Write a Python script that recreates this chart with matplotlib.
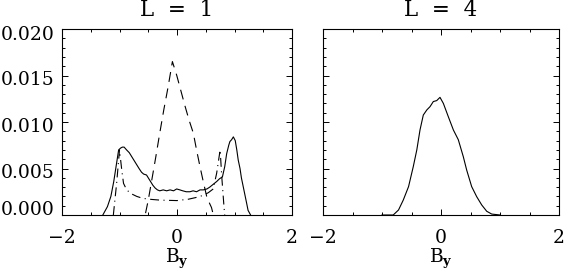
import matplotlib
matplotlib.use("Agg")
import matplotlib.pyplot as plt
import matplotlib.transforms as mtransforms
from matplotlib.ticker import MultipleLocator

plt.rcParams['font.family'] = ['DejaVu Serif']
plt.rcParams['mathtext.fontset'] = 'dejavuserif'

# L = 1 panel: solid curve
l1_solid_x = [-1.29, -1.21, -1.15, -1.10, -1.05, -1.015, -0.98, -0.95, -0.92, -0.877,
              -0.83, -0.79, -0.75, -0.70, -0.66, -0.617, -0.58, -0.53, -0.50, -0.46,
              -0.42, -0.38, -0.34, -0.30, -0.24, -0.18, -0.12, -0.06, -0.006, 0.05,
              0.10, 0.16, 0.225, 0.28, 0.34, 0.40, 0.457, 0.52, 0.57, 0.63,
              0.69, 0.74, 0.79, 0.83, 0.864, 0.90, 0.92, 0.95, 0.98, 1.013,
              1.04, 1.065, 1.096, 1.12, 1.15, 1.18, 1.21, 1.236, 1.28]
l1_solid_y = [0.0, 0.0009, 0.0020, 0.0036, 0.0056, 0.0070, 0.0072, 0.0073, 0.0073, 0.0070,
              0.0067, 0.0063, 0.0059, 0.0054, 0.0050, 0.0046, 0.0044, 0.0043, 0.0040, 0.0036,
              0.0032, 0.0029, 0.0027, 0.0026, 0.0027, 0.0026, 0.0027, 0.0026, 0.0028, 0.0027,
              0.0026, 0.0025, 0.0025, 0.0026, 0.0025, 0.0027, 0.0027, 0.0028, 0.0030, 0.0033,
              0.0036, 0.0039, 0.0041, 0.0052, 0.0066, 0.0075, 0.0079, 0.0081, 0.0084, 0.0080,
              0.0070, 0.0059, 0.0050, 0.0040, 0.0031, 0.0022, 0.0013, 0.0005, 0.0]

# L = 1 panel: long-dashed central peak
l1_peak_x = [-0.547, -0.50, -0.443, -0.37, -0.30, -0.23, -0.154, -0.08, -0.004, 0.07,
             0.14, 0.21, 0.284, 0.34, 0.40, 0.46, 0.516, 0.57, 0.60, 0.632]
l1_peak_y = [0.0002, 0.0016, 0.0036, 0.0062, 0.0088, 0.0113, 0.0138, 0.0165, 0.0150, 0.0133,
             0.0117, 0.0102, 0.0088, 0.0070, 0.0052, 0.0035, 0.0020, 0.0012, 0.0008, 0.0]

# L = 1 panel: dash-dot U-shaped curve
l1_u_x = [-1.107, -1.05, -1.0, -0.96, -0.93, -0.875, -0.80, -0.70, -0.60, -0.49,
          -0.296, 0.0, 0.20, 0.344, 0.45, 0.545, 0.63, 0.69, 0.75, 0.78, 0.817, 0.83]
l1_u_y = [0.0, 0.0034, 0.0070, 0.0048, 0.0034, 0.0027, 0.0023, 0.0020, 0.0018, 0.0017,
          0.0016, 0.00155, 0.0017, 0.0019, 0.0021, 0.0024, 0.0028, 0.0045, 0.0070, 0.0040, 0.0009, 0.0]

# L = 4 panel: solid curve
l4_x = [-1.0, -0.81, -0.72, -0.64, -0.55, -0.47, -0.41, -0.356, -0.30, -0.24,
        -0.186, -0.13, -0.073, -0.017, 0.04, 0.124, 0.21, 0.293, 0.378, 0.435,
        0.52, 0.605, 0.69, 0.775, 0.86, 1.0]
l4_y = [0.0, 0.0, 0.00054, 0.0016, 0.00305, 0.0052, 0.0070, 0.00914, 0.01075, 0.0113,
        0.01165, 0.0122, 0.0123, 0.01265, 0.0120, 0.01057, 0.00914, 0.0081, 0.00627, 0.00484,
        0.00305, 0.00197, 0.00108, 0.0004, 0.0001, 0.0]

titles = ["L  =  1", "L  =  4"]
xticks = [-2, 0, 2]
xticklabels = ['\u22122', '0', '2']
yticks = [0.000, 0.005, 0.010, 0.015, 0.020]
yticklabels = ['0.000', '0.005', '0.010', '0.015', '0.020']

fig = plt.figure(figsize=(5.65, 2.77), dpi=100)
ax1 = fig.add_axes([62/565, 1-215/277, 230/565, 186/277])
ax2 = fig.add_axes([323/565, 1-215/277, 236/565, 186/277])

fs = 13.5
lw = 0.8
ax1.plot(l1_solid_x, l1_solid_y, color='black', lw=lw)
ax1.plot(l1_peak_x, l1_peak_y, color='black', lw=lw, dashes=(9, 6))
ax1.plot(l1_u_x, l1_u_y, color='black', lw=lw, dashes=(8, 4, 1, 4))
ax2.plot(l4_x, l4_y, color='black', lw=lw)

for ax, t in zip([ax1, ax2], titles):
    ax.set_xlim(-2, 2)
    ax.set_ylim(0, 0.020)
    ax.set_xticks(xticks)
    ax.set_yticks(yticks)
    ax.xaxis.set_minor_locator(MultipleLocator(0.5))
    ax.yaxis.set_minor_locator(MultipleLocator(0.001))
    ax.tick_params(which='both', direction='in', top=True, right=True, width=0.7,
                   labelsize=fs)
    ax.tick_params(which='major', length=4.5)
    ax.tick_params(which='minor', length=2)
    ax.tick_params(axis='x', which='major', pad=10)
    ax.tick_params(axis='y', which='major', pad=5.5)
    for s in ax.spines.values():
        s.set_linewidth(0.8)
    ax.set_title(t, fontsize=15.5, pad=9.5)
    ax.set_xlabel(r'$\mathrm{B}_{\mathbf{y}}$', fontsize=fs, labelpad=0)
    ax.set_xticklabels(xticklabels)

ax1.set_yticklabels(yticklabels)
ax2.set_yticklabels([])

# IDL-style vertical offsets of y tick labels (pixels, positive = up)
y_offsets = [7, -2.5, -2.5, -2.5, -4.5]
for lab, off in zip(ax1.get_yticklabels(), y_offsets):
    lab.set_transform(lab.get_transform() +
                      mtransforms.ScaledTranslation(0, off / 100, fig.dpi_scale_trans))

fig.savefig('out.png', dpi=100)
